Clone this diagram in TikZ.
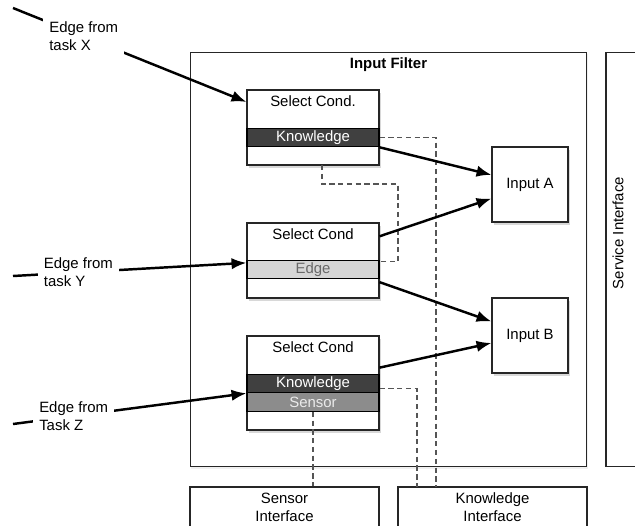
\documentclass[tikz,border=0pt]{standalone}
\usepackage{fontspec}
\setmainfont{Liberation Sans}
\usetikzlibrary{arrows.meta, shadows}
\definecolor{kdark}{RGB}{64,64,64}
\definecolor{elight}{RGB}{214,214,214}
\definecolor{etext}{RGB}{105,105,105}
\definecolor{smid}{RGB}{140,140,140}
\definecolor{linkgray}{RGB}{85,85,85}

\begin{document}
\begin{tikzpicture}[
  x=0.02cm, y=-0.02cm,
  font=\fontsize{8.5}{10.2}\selectfont,
  frame/.style={rectangle, draw=black!85, line width=0.6pt, fill=white, inner sep=0pt},
  cond/.style={frame, minimum width=2.64cm,
    drop shadow={shadow xshift=1.2pt, shadow yshift=-1.8pt, opacity=0.3}},
  band/.style={rectangle, draw=black, line width=0.6pt, minimum width=2.64cm,
    minimum height=0.37cm, inner sep=0pt},
  inp/.style={frame, minimum width=1.52cm, minimum height=1.5cm,
    drop shadow={shadow xshift=1.2pt, shadow yshift=-1.8pt, opacity=0.3}},
  iface/.style={frame, minimum width=3.78cm, minimum height=1.32cm},
  ttl/.style={anchor=north, align=center},
  arr/.style={-{Latex[length=8.5pt, width=6.5pt]}, line width=1.4pt},
  link/.style={draw=linkgray, line width=0.6pt, dash pattern=on 3pt off 2pt},
  lbl/.style={fill=white, align=left, inner sep=3.5pt}
]
\useasboundingbox (0,0) rectangle (635,525);
\node[frame, minimum width=7.94cm, minimum height=8.3cm,
  drop shadow={shadow xshift=0.8pt, shadow yshift=-1.2pt, opacity=0.12},
  label={[ttl, font=\fontsize{8.5}{10.2}\selectfont\bfseries]north:Input Filter}] (filter) at (388.5,259.5) {};
\node[frame, minimum width=0.88cm, minimum height=8.3cm] (svcif) at (628,259.5) {};
\node[rotate=90] (svctxt) at (618,233) {Service Interface};
\node[iface, label={[ttl]north:Sensor\\Interface}] (sif) at (284.5,520) {};
\node[iface, label={[ttl]north:Knowledge\\Interface}] (kif) at (492.5,520) {};

\node[cond, minimum height=1.5cm, label={[ttl]north:Select Cond.}] (sel1) at (313,127.5) {};
\node[band, fill=kdark, text=white] (k1) at (313,137.5) {Knowledge};
\node[cond, minimum height=1.5cm, label={[ttl]north:Select Cond}] (sel2) at (313,260.5) {};
\node[band, fill=elight, text=etext] (e2) at (313,269.5) {Edge};
\node[cond, minimum height=1.88cm, label={[ttl]north:Select Cond}] (sel3) at (313,383) {};
\node[band, fill=kdark, text=white] (k3) at (313,383.5) {Knowledge};
\node[band, fill=smid, text=white!92!black] (s3) at (313,402) {Sensor};

\node[inp] (inA) at (530,184.5) {Input A};
\node[inp] (inB) at (530,335.5) {Input B};

\coordinate (srcX) at (13,8);
\coordinate (srcY) at (13,276);
\coordinate (srcZ) at (13,424);
\coordinate (kbusA) at (436,487);
\coordinate (kbusB) at (417,487);
\coordinate (d2top) at (322,165);
\coordinate (d2turn) at (398,184);

\draw[link] (k1.east) -| (kbusA);
\draw[link] (d2top) |- (d2turn) |- ([yshift=-1pt]e2.north east);
\draw[link] ([yshift=-3pt]k3.east) -| (kbusB);
\draw[link] (s3.south) -- (s3.south |- sif.north);

\draw[arr] (srcX) -- node[lbl, pos=0.303] {Edge from\\task X} (sel1.159);
\draw[arr] (srcY) -- node[lbl, pos=0.28] {Edge from\\task Y} (sel2.182);
\draw[arr] (srcZ) -- node[lbl, pos=0.26] {Edge from\\Task Z} (k3.south west);

\draw[arr] (k1.south east) -- (inA.166);
\draw[arr] (sel2.20) -- (inA.200);
\draw[arr] (sel2.342) -- (inB.160);
\draw[arr] (sel3.13) -- (inB.191);
\end{tikzpicture}
\end{document}
